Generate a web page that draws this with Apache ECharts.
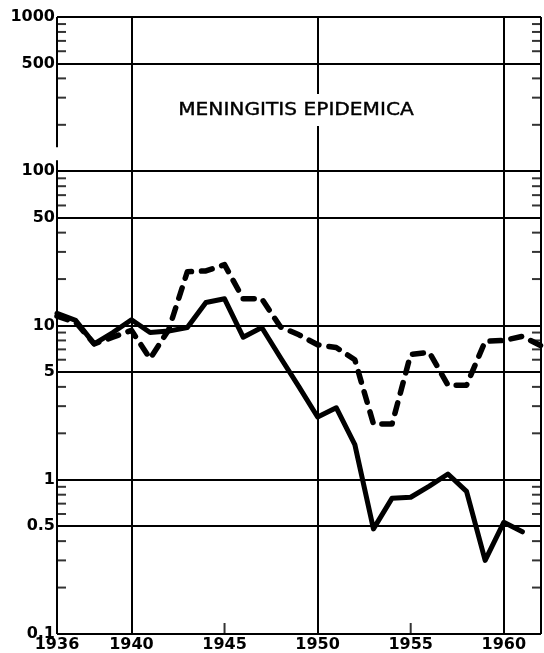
<!DOCTYPE html>
<html><head><meta charset="utf-8">
<script src="https://cdn.jsdelivr.net/npm/echarts@6/dist/echarts.min.js"></script>
<style>html,body{margin:0;padding:0;background:#fff}#c{width:544px;height:653px}</style>
</head><body><div id="c"></div>
<script>
const years = [1936,1937,1938,1939,1940,1941,1942,1943,1944,1945,1946,1947,1948,1949,1950,1951,1952,1953,1954,1955,1956,1957,1958,1959,1960,1961];
const solidValues = [12,10.8,7.6,9.0,10.9,9.0,9.2,9.7,14.1,14.9,8.4,9.7,6.2,4.0,2.55,2.93,1.69,0.48,0.76,0.77,0.91,1.09,0.84,0.30,0.53,0.46];
const dashedYears = [1936,1937,1938,1939,1940,1941,1942,1943,1944,1945,1946,1947,1948,1949,1950,1951,1952,1953,1954,1955,1956,1957,1958,1959,1960,1961,1962];
const dashedValues = [11.5,10.5,7.6,8.4,9.3,6.1,9.4,22.3,22.6,24.8,14.9,14.9,9.8,8.7,7.5,7.2,6.0,2.3,2.3,6.5,6.7,4.1,4.1,7.9,8.0,8.5,7.4];
const yLabelValues = [1000,500,100,50,10,5,1,0.5,0.1];
const yLabelTexts = ['1000','500','100','50','10','5','1','0.5','0.1'];
const xGridYears = [1940,1950,1960];
const xLabelYears = [1936,1940,1945,1950,1955,1960];
const xMinorTickYears = [1945,1955];
const yMinorTicks = [900,800,700,600,400,300,200,90,80,70,60,40,30,20,9,8,7,6,4,3,2,0.9,0.8,0.7,0.6,0.4,0.3,0.2];
const leftAxisBreak = [118,143];
const xMin = 1936, xMax = 1962, yMin = 0.1, yMax = 1000;
const titleText = 'MENINGITIS EPIDEMICA';

const FONT = '"DejaVu Sans", sans-serif';
const chart = echarts.init(document.getElementById('c'), null, {renderer:'canvas'});

const markData = [];
yLabelValues.forEach((v,i)=>markData.push({yAxis:v, name:yLabelTexts[i]}));
xGridYears.forEach(x=>markData.push({xAxis:x, label:{show:false}}));
markData.push({xAxis:xMax, label:{show:false}});
markData.push([{coord:[xMin,yMin], label:{show:false}},{coord:[xMin,leftAxisBreak[0]]}]);
markData.push([{coord:[xMin,leftAxisBreak[1]], label:{show:false}},{coord:[xMin,yMax]}]);

const option = {
  backgroundColor:'#fff',
  animation:false,
  grid:{left:57,right:2,top:17,bottom:19,containLabel:false},
  xAxis:{type:'value',min:xMin,max:xMax,interval:1,
    axisLine:{show:false},axisTick:{show:false},splitLine:{show:false},
    axisLabel:{formatter:v=>xLabelYears.includes(v)?String(v):'',margin:3,fontSize:16,fontWeight:'bold',color:'#000',fontFamily:FONT}},
  yAxis:{type:'log',logBase:10,min:yMin,max:yMax,
    axisLine:{show:false},axisTick:{show:false},axisLabel:{show:false},splitLine:{show:false}},
  graphic:[{type:'text',x:296,y:110,scaleX:1.12,z:100,
    style:{text:titleText,x:0,y:0,align:'center',verticalAlign:'middle',
      font:'18px '+FONT,fill:'#000',stroke:'#000',lineWidth:0.4,backgroundColor:'#fff',padding:[7,3]}}],
  series:[
    {type:'line',name:'solid',data:years.map((y,i)=>[y,solidValues[i]]),symbol:'none',z:5,
      lineStyle:{color:'#000',width:5,join:'round',cap:'round'},
      markLine:{silent:true,symbol:'none',animation:false,
        lineStyle:{color:'#000',width:2,type:'solid'},
        label:{show:true,position:'start',formatter:'{b}',distance:2,fontSize:16,fontWeight:'bold',color:'#000',fontFamily:FONT},
        emphasis:{disabled:true},
        data:markData}},
    {type:'line',name:'dashed',data:dashedYears.map((y,i)=>[y,dashedValues[i]]),symbol:'none',z:5,
      lineStyle:{color:'#000',width:5.5,type:[11,10],cap:'round',join:'round'}},
    {type:'scatter',data:yMinorTicks.map(v=>[xMin,v]),symbol:'rect',symbolSize:[9,2],symbolOffset:[4.5,0],
      itemStyle:{color:'#000'},silent:true,z:4},
    {type:'scatter',data:yMinorTicks.map(v=>[xMax,v]),symbol:'rect',symbolSize:[9,2],symbolOffset:[-4.5,0],
      itemStyle:{color:'#000'},silent:true,z:4,clip:false},
    {type:'scatter',data:xMinorTickYears.map(x=>[x,yMin]),symbol:'rect',symbolSize:[2,11],symbolOffset:[0,-5.5],
      itemStyle:{color:'#000'},silent:true,z:4,clip:false}
  ]
};
chart.setOption(option);
</script></body></html>
